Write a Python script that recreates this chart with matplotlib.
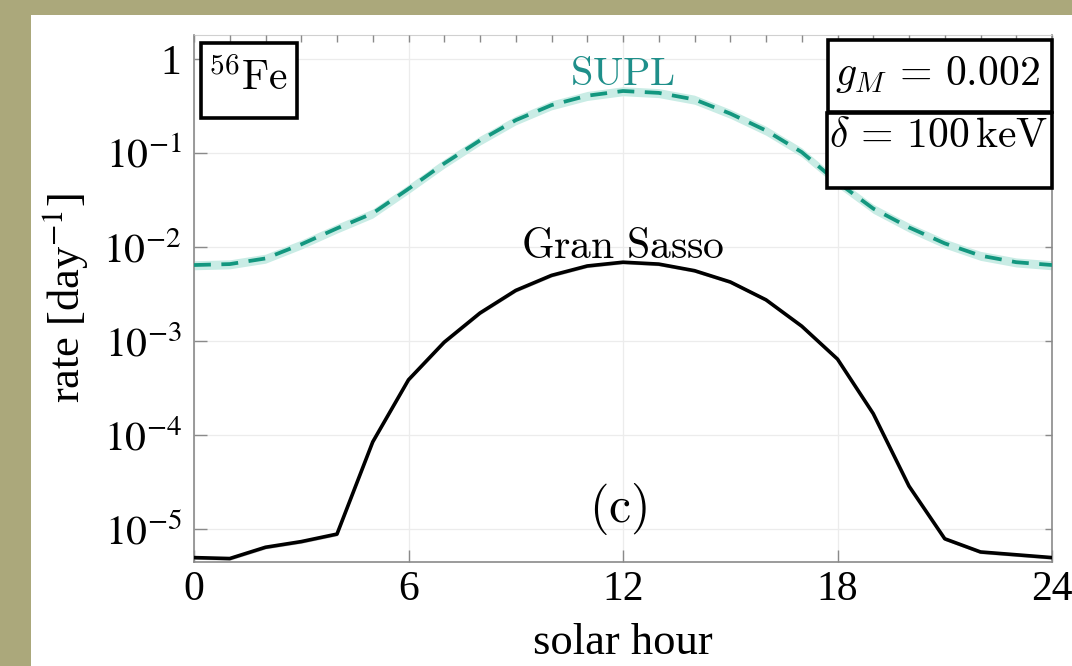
import numpy as np
import matplotlib
matplotlib.use("Agg")
import matplotlib.pyplot as plt
from matplotlib.patches import Rectangle

# ---- data: event rate vs. solar hour -------------------------------------
hours = list(range(25))
gran_sasso_log10 = [-5.30, -5.31, -5.19, -5.13, -5.05, -4.07, -3.41, -3.01,
                    -2.70, -2.46, -2.30, -2.20, -2.16, -2.18, -2.25, -2.37,
                    -2.56, -2.84, -3.19, -3.77, -4.54, -5.10, -5.24, -5.27,
                    -5.30]
supl_log10 = [-2.19, -2.18, -2.12, -1.97, -1.80, -1.64, -1.38, -1.11,
              -0.865, -0.65, -0.49, -0.39, -0.34, -0.36, -0.43, -0.58,
              -0.76, -0.99, -1.31, -1.59, -1.79, -1.96, -2.09, -2.16,
              -2.19]
gran_sasso_relerr = 0.04
supl_relerr = 0.11
xtick_vals = [0, 6, 12, 18, 24]

# ---- style ----------------------------------------------------------------
plt.rcParams["font.family"] = ["Liberation Serif", "DejaVu Serif"]
plt.rcParams["mathtext.fontset"] = "stix"

TEAL = "#13977f"
BAND = "#c9ece5"
SPINE = "#8a8a8a"

fig = plt.figure(figsize=(10.72, 6.66), dpi=100)
fig.patch.set_facecolor("#aba87b")

# white panel behind the plot
bg = fig.add_axes([31 / 1072, 0, 1 - 31 / 1072, 1 - 15 / 666], zorder=-5)
bg.set_facecolor("white")
bg.set_xticks([])
bg.set_yticks([])
for s in bg.spines.values():
    s.set_visible(False)

ax = fig.add_axes([194 / 1072, 1 - 562 / 666, 858 / 1072, 527 / 666])
ax.set_facecolor("none")

x = np.array(hours, dtype=float)
gs = 10 ** np.array(gran_sasso_log10)
sp = 10 ** np.array(supl_log10)

ax.fill_between(x, sp * (1 - supl_relerr), sp * (1 + supl_relerr),
                color=BAND, lw=0, zorder=2)
ax.plot(x, sp, color=TEAL, lw=2.7, ls=(0, (4.5, 2.8)), zorder=3)
ax.fill_between(x, gs * (1 - gran_sasso_relerr), gs * (1 + gran_sasso_relerr),
                color="#bdbdbd", lw=0, zorder=2)
ax.plot(x, gs, color="black", lw=2.6, zorder=4)

ax.set_yscale("log")
ax.set_xlim(0, 24)
ax.set_ylim(4.5e-6, 1.8)
ax.set_xticks(xtick_vals)
ax.set_xticklabels([str(v) for v in xtick_vals])
ax.set_yticks([1e-5, 1e-4, 1e-3, 1e-2, 1e-1, 1])
ax.set_yticklabels([r"$10^{-5}$", r"$10^{-4}$", r"$10^{-3}$", r"$10^{-2}$",
                    r"$10^{-1}$", "1"])
ax.minorticks_off()
ax.grid(True, color="#ececec", lw=0.9, zorder=0)
ax.set_axisbelow(True)

ax.tick_params(axis="both", which="major", direction="in", length=9,
               width=1.0, color=SPINE, labelsize=30)
ax.tick_params(axis="x", pad=6)
ax.tick_params(axis="y", pad=9)
for side in ["left", "bottom", "right"]:
    ax.spines[side].set_color(SPINE)
    ax.spines[side].set_linewidth(1.2)
ax.spines["top"].set_color("#d0d0d0")
ax.spines["top"].set_linewidth(0.8)

# hourly ticks along the top edge
axt = ax.twiny()
axt.set_xlim(0, 24)
axt.set_xticks(hours)
axt.tick_params(axis="x", direction="in", length=5, width=1.0, color=SPINE,
                labeltop=False)
for s in axt.spines.values():
    s.set_visible(False)

# decade ticks along the right edge
axr = ax.twinx()
axr.set_yscale("log")
axr.set_ylim(4.5e-6, 1.8)
axr.set_yticks([1e-5, 1e-4, 1e-3, 1e-2, 1e-1, 1])
axr.minorticks_off()
axr.tick_params(axis="y", direction="in", length=5, width=1.0, color=SPINE,
                labelright=False)
for s in axr.spines.values():
    s.set_visible(False)

ax.set_xlabel("solar hour", fontsize=32, labelpad=10)
ax.set_ylabel(r"rate [day$^{-1}$]", fontsize=32, labelpad=10)

# ---- annotations ------------------------------------------------------------
def boxed(x0, y0, x1, y1):
    axr.add_patch(Rectangle((x0, y0), x1 - x0, y1 - y0, transform=ax.transAxes,
                            facecolor="white", edgecolor="black", lw=2.6,
                            clip_on=False, zorder=10))

boxed(0.0078, 0.8425, 0.1197, 0.985)
boxed(0.739, 0.854, 1.0, 0.9905)
boxed(0.738, 0.710, 1.0, 0.852)

cm = dict(math_fontfamily="cm", zorder=11)
axr.text(0.0629, 0.8956, r"$^{56}\mathrm{Fe}$", transform=ax.transAxes,
         ha="center", va="baseline", fontsize=30, **cm)
axr.text(0.866, 0.905, r"$g_M\,=\,0.002$", transform=ax.transAxes,
         ha="center", va="baseline", fontsize=30, **cm)
axr.text(0.868, 0.788, r"$\delta\,=\,100\,\mathrm{keV}$", transform=ax.transAxes,
         ha="center", va="baseline", fontsize=30, **cm)
ax.text(0.5, 0.905, r"$\mathrm{SUPL}$", transform=ax.transAxes,
        ha="center", va="baseline", fontsize=29, color="#1f8f8a", **cm)
ax.text(0.5, 0.577, r"$\mathrm{Gran\ Sasso}$", transform=ax.transAxes,
        ha="center", va="baseline", fontsize=30, **cm)
ax.text(0.494, 0.0765, r"$\mathrm{(c)}$", transform=ax.transAxes,
        ha="center", va="baseline", fontsize=36, **cm)

fig.savefig("out.png", dpi=100, facecolor=fig.get_facecolor())
